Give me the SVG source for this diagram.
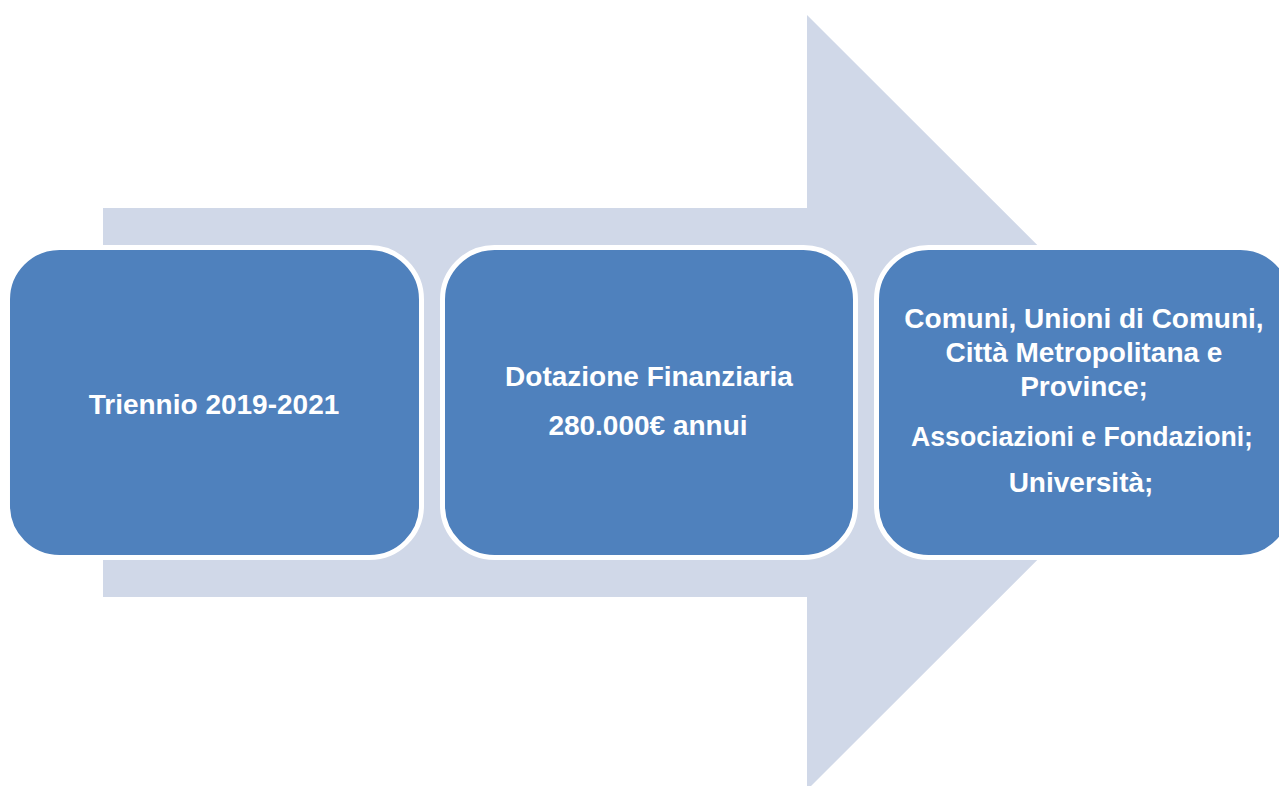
<svg xmlns="http://www.w3.org/2000/svg" width="1279" height="786" viewBox="0 0 1279 786">
<style>
.box{fill:#4F81BD;stroke:#FFFFFF;stroke-width:5}
.t{font-family:"Liberation Sans",Arial,sans-serif;font-weight:bold;font-size:28px;fill:#FFFFFF;text-anchor:middle}
</style>
<rect width="1279" height="786" fill="#FFFFFF"/>
<g id="arrow">
<polygon points="103,208 807,208 807,15 1195,402.5 807,790 807,597 103,597" fill="#D0D8E8"/>
</g>
<g id="node1">
<rect class="box" x="7.5" y="247.5" width="414" height="310" rx="52" ry="52"/>
<text class="t" x="214" y="414">Triennio 2019-2021</text>
</g>
<g id="node2">
<rect class="box" x="442.5" y="247.5" width="413" height="310" rx="52" ry="52"/>
<text class="t" x="649" y="386">Dotazione Finanziaria</text>
<text class="t" x="648" y="435">280.000€ annui</text>
</g>
<g id="node3">
<rect class="box" x="876.5" y="247.5" width="416" height="310" rx="52" ry="52"/>
<text class="t" x="1084" y="328">Comuni, Unioni di Comuni,</text>
<text class="t" x="1084" y="362">Città Metropolitana e</text>
<text class="t" x="1084" y="396">Province;</text>
<text class="t" x="1082" y="446" textLength="342" lengthAdjust="spacingAndGlyphs">Associazioni e Fondazioni;</text>
<text class="t" x="1081" y="492">Università;</text>
</g>
<g id="connectors"/>
</svg>
